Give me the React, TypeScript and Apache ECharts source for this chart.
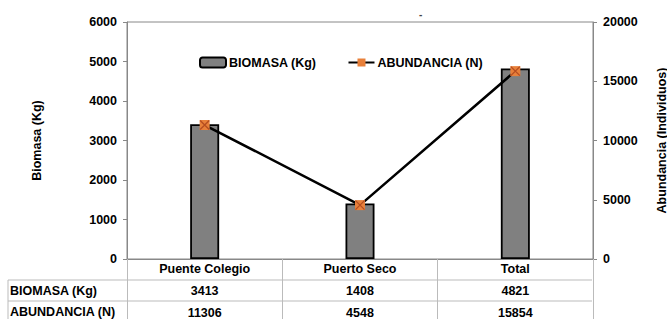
import React, { useEffect, useRef } from "react";
import * as echarts from "echarts";

const categories = ["Puente Colegio", "Puerto Seco", "Total"];
const biomasa = [3413, 1408, 4821];
const abundancia = [11306, 4548, 15854];
const rowLabels = ["BIOMASA (Kg)", "ABUNDANCIA (N)"];
const leftTicks = { min: 0, max: 6000, interval: 1000 };
const rightTicks = { min: 0, max: 20000, interval: 5000 };

const FONT = "'Liberation Sans', Arial, sans-serif";
const FS = 12.5;

export default function App() {
  const ref = useRef<HTMLDivElement>(null);
  useEffect(() => {
    const chart = echarts.init(ref.current!, undefined, { renderer: "svg" });
    const txt = { fontFamily: FONT, fontWeight: "bold" as const, fontSize: FS, color: "#000" };
    const hiddenAxis = (offset: number, values: number[]) => ({
      type: "category" as const,
      data: categories,
      position: "bottom" as const,
      offset,
      gridIndex: 0,
      axisLine: { show: false },
      axisTick: { show: false },
      axisLabel: { ...txt, margin: 3, formatter: (_v: string, i: number) => String(values[i]) },
    });
    chart.setOption({
      animation: false,
      backgroundColor: "#fff",
      grid: {
        left: 127, right: 74, top: 22, bottom: 60,
        show: true, borderColor: "#888", borderWidth: 1,
        containLabel: false, outerBoundsMode: "none",
      },
      legend: {
        left: 194,
        top: 51,
        itemWidth: 26,
        itemHeight: 10,
        itemGap: 31,
        textStyle: { ...txt, padding: [0, 0, 0, -2] },
        data: ["BIOMASA (Kg)", "ABUNDANCIA (N)"],
      },
      xAxis: [
        {
          type: "category",
          data: categories,
          axisLine: { lineStyle: { color: "#888" } },
          axisTick: { show: true, length: 60, lineStyle: { color: "#bbb" } },
          axisLabel: { ...txt, margin: 3 },
        },
        hiddenAxis(22, biomasa),
        hiddenAxis(44, abundancia),
      ],
      yAxis: [
        {
          type: "value",
          ...leftTicks,
          name: "Biomasa (Kg)",
          nameLocation: "middle",
          nameGap: 84,
          nameTextStyle: { ...txt },
          axisLine: { show: true, lineStyle: { color: "#888" } },
          axisTick: { show: true, length: 4, lineStyle: { color: "#888" } },
          axisLabel: { ...txt, margin: 10, formatter: (v: number) => String(v) },
          splitLine: { show: false },
        },
        {
          type: "value",
          ...rightTicks,
          name: "Abundancia (Individuos)",
          nameLocation: "middle",
          nameGap: 62,
          nameTextStyle: { ...txt },
          axisLine: { show: true, lineStyle: { color: "#888" } },
          axisTick: { show: true, length: 4, lineStyle: { color: "#888" } },
          axisLabel: { ...txt, margin: 10, formatter: (v: number) => String(v) },
          splitLine: { show: false },
        },
      ],
      series: [
        {
          name: "BIOMASA (Kg)",
          type: "bar",
          data: biomasa,
          barWidth: 29,
          itemStyle: { color: "#808080", borderColor: "#000", borderWidth: 1.8 },
        },
        {
          name: "ABUNDANCIA (N)",
          type: "line",
          yAxisIndex: 1,
          data: abundancia,
          symbol: "rect",
          symbolSize: 10,
          lineStyle: { color: "#000", width: 2.5 },
          itemStyle: { color: "#E8803A", borderWidth: 0 },
          z: 3,
        },
        {
          name: "cross",
          type: "scatter",
          yAxisIndex: 1,
          data: abundancia,
          symbol: "path://M0,0L10,10M10,0L0,10",
          symbolSize: 9,
          itemStyle: { color: "none", borderColor: "#A8401A", borderWidth: 1.3 },
          z: 4,
          silent: true,
        },
      ],
      graphic: [
        { type: "line", shape: { x1: 8, y1: 280, x2: 592, y2: 280 }, style: { stroke: "#bbb", lineWidth: 1 } },
        { type: "line", shape: { x1: 8, y1: 301, x2: 592, y2: 301 }, style: { stroke: "#bbb", lineWidth: 1 } },
        { type: "line", shape: { x1: 8, y1: 280, x2: 8, y2: 319 }, style: { stroke: "#bbb", lineWidth: 1 } },
        { type: "text", left: 10, top: 284, style: { text: rowLabels[0], font: `bold ${FS}px ${FONT}`, fill: "#000" } },
        { type: "text", left: 10, top: 305, style: { text: rowLabels[1], font: `bold ${FS}px ${FONT}`, fill: "#000" } },
        { type: "text", left: 419, top: 9, style: { text: "-", font: `bold 10px ${FONT}`, fill: "#444" } },
      ],
    });
    return () => chart.dispose();
  }, []);
  return <div ref={ref} style={{ width: 667, height: 319, position: "absolute", left: 0, top: 0 }} />;
}
